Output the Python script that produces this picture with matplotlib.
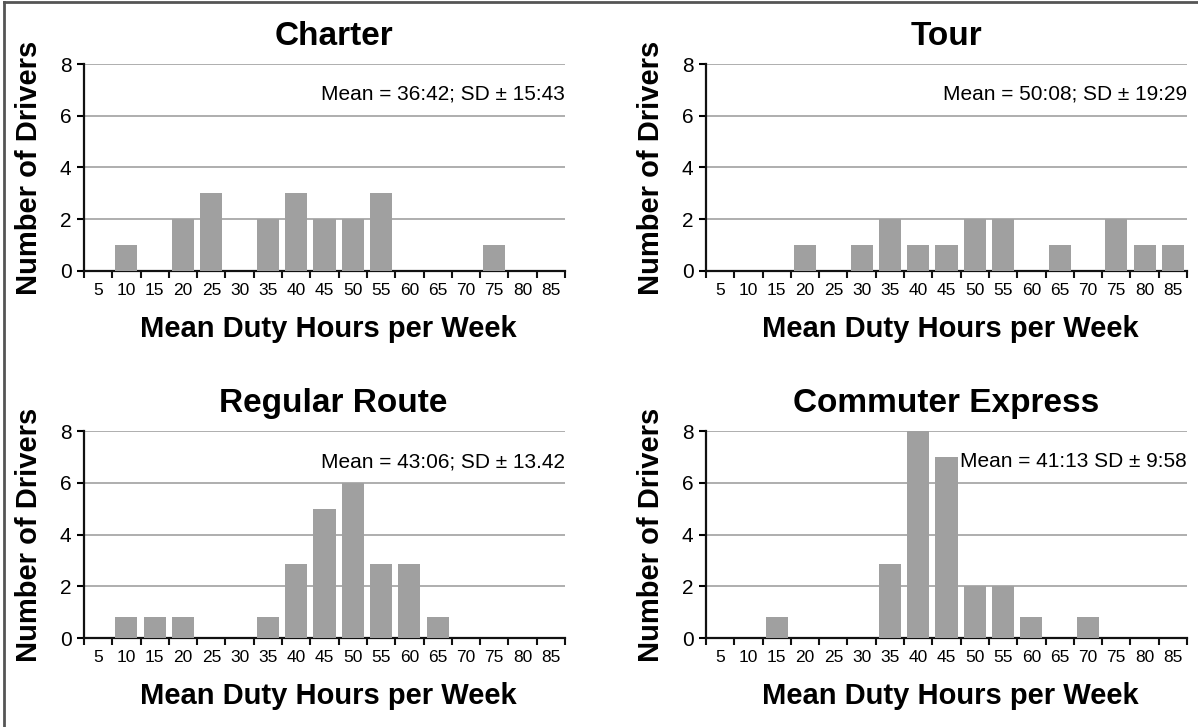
import matplotlib
matplotlib.use("Agg")
import matplotlib.pyplot as plt
import numpy as np

plt.rcParams["font.family"] = ["Liberation Sans", "DejaVu Sans"]

HOURS = [5, 10, 15, 20, 25, 30, 35, 40, 45, 50, 55, 60, 65, 70, 75, 80, 85]

# number of drivers per duty-hour bin
charter = [0, 1, 0, 2, 3, 0, 2, 3, 2, 2, 3, 0, 0, 0, 1, 0, 0]
tour = [0, 0, 0, 1, 0, 1, 2, 1, 1, 2, 2, 0, 1, 0, 2, 1, 1]
regular_route = [0, 0.8, 0.8, 0.8, 0, 0, 0.8, 2.85, 5, 6, 2.85, 2.85, 0.8, 0, 0, 0, 0]
commuter_express = [0, 0, 0.8, 0, 0, 0, 2.85, 8, 7, 2, 2, 0.8, 0, 0.8, 0, 0, 0]

TITLES = ["Charter", "Tour", "Regular Route", "Commuter Express"]
NOTES = [
    "Mean = 36:42; SD \u00b1 15:43",
    "Mean = 50:08; SD \u00b1 19:29",
    "Mean = 43:06; SD \u00b1 13.42",
    "Mean = 41:13 SD \u00b1 9:58",
]
SERIES = [charter, tour, regular_route, commuter_express]

W, H = 1198, 727
# axes boxes in pixels: left, top(value 8), right, bottom(value 0), title x shift
BOXES = [(84, 64, 565, 271, 9), (706, 64, 1187, 271, 0),
         (84, 431, 565, 638, 9), (706, 431, 1187, 638, 0)]

fig = plt.figure(figsize=(W / 100, H / 100), dpi=100)

for (l, t, r, b, dx), title, note, vals in zip(BOXES, TITLES, NOTES, SERIES):
    ax = fig.add_axes([l / W, 1 - b / H, (r - l) / W, (b - t) / H])
    w, h = r - l, b - t  # axes size in px
    x = np.arange(len(HOURS))
    ax.bar(x, vals, width=0.78, color="#a0a0a0", zorder=3)
    ax.set_xlim(-0.5, len(HOURS) - 0.5)
    ax.set_ylim(0, 8)
    ax.set_yticks([0, 2, 4, 6, 8])
    ax.yaxis.grid(True, color="#a8a8a8", linewidth=1.3, zorder=0)
    ax.set_axisbelow(True)
    for s in ["top", "right"]:
        ax.spines[s].set_visible(False)
    for s in ["left", "bottom"]:
        ax.spines[s].set_linewidth(1.6)
        ax.spines[s].set_color("#111111")
    ax.set_xticks(x)
    ax.set_xticklabels([str(v) for v in HOURS], fontsize=12.5)
    ax.set_xticks(np.arange(len(HOURS) + 1) - 0.5, minor=True)
    ax.tick_params(axis="x", which="major", length=0, pad=9)
    ax.tick_params(axis="x", which="minor", length=5, width=1.5, color="#111111")
    ax.tick_params(axis="y", length=5, width=1.5, labelsize=15, pad=4)

    # title, axis labels and note placed by baseline in pixels
    ax.text(0.5 + dx / w, (b - (t - 19)) / h, title, transform=ax.transAxes,
            ha="center", va="baseline", fontsize=24, fontweight="bold")
    ax.text(0.5 + 4 / w, (b - (b + 66)) / h, "Mean Duty Hours per Week", transform=ax.transAxes,
            ha="center", va="baseline", fontsize=21, fontweight="bold")
    ax.text(-55 / w, 0.5, "Number of Drivers", transform=ax.transAxes,
            ha="center", va="center", rotation=90, fontsize=21, fontweight="bold")
    ax.text(1.0, (b - (t + 36)) / h, note, transform=ax.transAxes,
            ha="right", va="baseline", fontsize=15)

# outer frame (left and top edges visible)
fig.add_artist(plt.Line2D([4 / W, 4 / W], [0, 1 - 2 / H], transform=fig.transFigure,
                          color="#555555", linewidth=2))
fig.add_artist(plt.Line2D([4 / W, 1], [1 - 2 / H, 1 - 2 / H], transform=fig.transFigure,
                          color="#555555", linewidth=2))

fig.savefig("out.png", dpi=100)
